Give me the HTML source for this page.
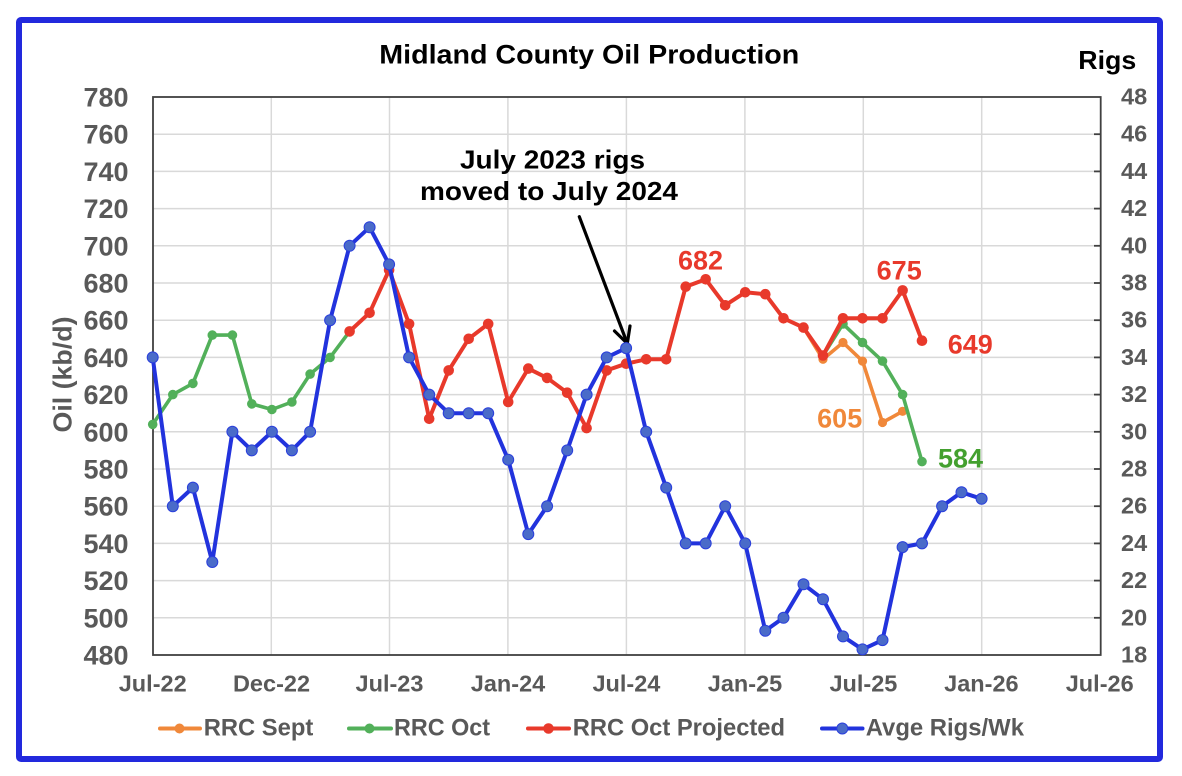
<!DOCTYPE html>
<html><head><meta charset="utf-8"><style>
html,body{margin:0;padding:0;background:#fff;}
svg{display:block;}
text{font-family:"Liberation Sans",Arial,sans-serif;font-weight:bold;}
</style></head><body>
<svg width="1182" height="776" viewBox="0 0 1182 776" xmlns="http://www.w3.org/2000/svg">
<rect x="0" y="0" width="1182" height="776" fill="#fff"/>
<rect x="19" y="20" width="1141" height="739" fill="#fff" stroke="#2229dd" stroke-width="6" rx="2"/>

<!-- gridlines -->
<g stroke="#d9d9d9" stroke-width="1.5">
<line x1="153" y1="134.2" x2="1100.7" y2="134.2"/>
<line x1="153" y1="171.4" x2="1100.7" y2="171.4"/>
<line x1="153" y1="208.6" x2="1100.7" y2="208.6"/>
<line x1="153" y1="245.8" x2="1100.7" y2="245.8"/>
<line x1="153" y1="283" x2="1100.7" y2="283"/>
<line x1="153" y1="320.2" x2="1100.7" y2="320.2"/>
<line x1="153" y1="357.4" x2="1100.7" y2="357.4"/>
<line x1="153" y1="394.6" x2="1100.7" y2="394.6"/>
<line x1="153" y1="431.8" x2="1100.7" y2="431.8"/>
<line x1="153" y1="469" x2="1100.7" y2="469"/>
<line x1="153" y1="506.2" x2="1100.7" y2="506.2"/>
<line x1="153" y1="543.4" x2="1100.7" y2="543.4"/>
<line x1="153" y1="580.6" x2="1100.7" y2="580.6"/>
<line x1="153" y1="617.8" x2="1100.7" y2="617.8"/>
<line x1="271.3" y1="97" x2="271.3" y2="655"/>
<line x1="389.5" y1="97" x2="389.5" y2="655"/>
<line x1="507.9" y1="97" x2="507.9" y2="655"/>
<line x1="626.4" y1="97" x2="626.4" y2="655"/>
<line x1="744.9" y1="97" x2="744.9" y2="655"/>
<line x1="863.3" y1="97" x2="863.3" y2="655"/>
<line x1="981.7" y1="97" x2="981.7" y2="655"/>
</g>
<!-- plot border -->
<rect x="153" y="97" width="947.7" height="558" fill="none" stroke="#404040" stroke-width="1.8"/>
<!-- right ticks -->
<g stroke="#404040" stroke-width="1.8">
<line x1="1094" y1="134.2" x2="1100.7" y2="134.2"/>
<line x1="1094" y1="171.4" x2="1100.7" y2="171.4"/>
<line x1="1094" y1="208.6" x2="1100.7" y2="208.6"/>
<line x1="1094" y1="245.8" x2="1100.7" y2="245.8"/>
<line x1="1094" y1="283" x2="1100.7" y2="283"/>
<line x1="1094" y1="320.2" x2="1100.7" y2="320.2"/>
<line x1="1094" y1="357.4" x2="1100.7" y2="357.4"/>
<line x1="1094" y1="394.6" x2="1100.7" y2="394.6"/>
<line x1="1094" y1="431.8" x2="1100.7" y2="431.8"/>
<line x1="1094" y1="469" x2="1100.7" y2="469"/>
<line x1="1094" y1="506.2" x2="1100.7" y2="506.2"/>
<line x1="1094" y1="543.4" x2="1100.7" y2="543.4"/>
<line x1="1094" y1="580.6" x2="1100.7" y2="580.6"/>
<line x1="1094" y1="617.8" x2="1100.7" y2="617.8"/>
</g>

<!-- left tick labels -->
<g fill="#595959" font-size="27" text-anchor="end">
<text x="128.5" y="106.5">780</text>
<text x="128.5" y="143.7">760</text>
<text x="128.5" y="180.9">740</text>
<text x="128.5" y="218.1">720</text>
<text x="128.5" y="255.3">700</text>
<text x="128.5" y="292.5">680</text>
<text x="128.5" y="329.7">660</text>
<text x="128.5" y="366.9">640</text>
<text x="128.5" y="404.1">620</text>
<text x="128.5" y="441.3">600</text>
<text x="128.5" y="478.5">580</text>
<text x="128.5" y="515.7">560</text>
<text x="128.5" y="552.9">540</text>
<text x="128.5" y="590.1">520</text>
<text x="128.5" y="627.3">500</text>
<text x="128.5" y="664.5">480</text>
</g>
<!-- right tick labels -->
<g fill="#595959" font-size="23.5" text-anchor="start">
<text x="1121" y="104.5">48</text>
<text x="1121" y="141.7">46</text>
<text x="1121" y="178.9">44</text>
<text x="1121" y="216.1">42</text>
<text x="1121" y="253.3">40</text>
<text x="1121" y="290.5">38</text>
<text x="1121" y="327.7">36</text>
<text x="1121" y="364.9">34</text>
<text x="1121" y="402.1">32</text>
<text x="1121" y="439.3">30</text>
<text x="1121" y="476.5">28</text>
<text x="1121" y="513.7">26</text>
<text x="1121" y="550.9">24</text>
<text x="1121" y="588.1">22</text>
<text x="1121" y="625.3">20</text>
<text x="1121" y="662.5">18</text>
</g>
<!-- x labels -->
<g fill="#595959" font-size="23.5" text-anchor="middle">
<text x="152.7" y="691.7">Jul-22</text>
<text x="271.5" y="691.7">Dec-22</text>
<text x="389.5" y="691.7">Jul-23</text>
<text x="508" y="691.7">Jan-24</text>
<text x="626.4" y="691.7">Jul-24</text>
<text x="745" y="691.7">Jan-25</text>
<text x="863.4" y="691.7">Jul-25</text>
<text x="981.4" y="691.7">Jan-26</text>
<text x="1099.7" y="691.7">Jul-26</text>
</g>

<!-- titles -->
<text x="379.3" y="63.3" font-size="27" fill="#000" textLength="420" lengthAdjust="spacingAndGlyphs">Midland County Oil Production</text>
<text x="1078.3" y="69" font-size="26" fill="#000" textLength="58" lengthAdjust="spacingAndGlyphs">Rigs</text>
<text transform="translate(71.5,432.5) rotate(-90)" font-size="26" fill="#595959" textLength="116" lengthAdjust="spacingAndGlyphs">Oil (kb/d)</text>

<!-- annotation -->
<text x="460" y="168.3" font-size="26" fill="#000" textLength="185" lengthAdjust="spacingAndGlyphs">July 2023 rigs</text>
<text x="420" y="200" font-size="26" fill="#000" textLength="258" lengthAdjust="spacingAndGlyphs">moved to July 2024</text>
<g stroke="#000" stroke-width="3.2" fill="none" stroke-linecap="round" stroke-linejoin="round">
<line x1="579.3" y1="216.7" x2="627.3" y2="343.5"/>
<polyline points="614.5,331 627.3,343.5 630,326"/>
</g>

<!-- orange RRC Sept -->
<g stroke="#f0883a" stroke-width="3.6" fill="none" stroke-linejoin="round" stroke-linecap="round">
<polyline points="803.5,327.6 823.0,359.3 843.0,342.5 862.5,361.1 882.5,422.5 902.6,411.3"/>
</g>
<g fill="#f0883a">
<circle cx="823.0" cy="359.3" r="4.6"/><circle cx="843.0" cy="342.5" r="4.6"/><circle cx="862.5" cy="361.1" r="4.6"/><circle cx="882.5" cy="422.5" r="4.6"/><circle cx="902.6" cy="411.3" r="4.6"/>
</g>

<!-- green RRC Oct -->
<g stroke="#52b05a" stroke-width="3.6" fill="none" stroke-linejoin="round" stroke-linecap="round">
<polyline points="152.7,424.4 172.8,394.6 192.9,383.4 212.3,335.1 232.4,335.1 251.8,403.9 271.9,409.5 291.9,402 310.1,374.1 330.1,357.4 349.6,331.4"/>
<polyline points="823.0,355.5 843.0,323.9 862.5,342.5 882.5,361.1 902.6,394.6 922.0,461.6"/>
</g>
<g fill="#52b05a">
<circle cx="152.7" cy="424.4" r="4.8"/><circle cx="172.8" cy="394.6" r="4.8"/><circle cx="192.9" cy="383.4" r="4.8"/><circle cx="212.3" cy="335.1" r="4.8"/><circle cx="232.4" cy="335.1" r="4.8"/><circle cx="251.8" cy="403.9" r="4.8"/><circle cx="271.9" cy="409.5" r="4.8"/><circle cx="291.9" cy="402" r="4.8"/><circle cx="310.1" cy="374.1" r="4.8"/><circle cx="330.1" cy="357.4" r="4.8"/>
<circle cx="843.0" cy="323.9" r="4.8"/><circle cx="862.5" cy="342.5" r="4.8"/><circle cx="882.5" cy="361.1" r="4.8"/><circle cx="902.6" cy="394.6" r="4.8"/><circle cx="922.0" cy="461.6" r="4.8"/>
</g>

<!-- red RRC Oct Projected -->
<g stroke="#e8392b" stroke-width="4" fill="none" stroke-linejoin="round" stroke-linecap="round">
<polyline points="349.6,331.4 369.6,312.8 389.1,270 409.1,323.9 429.2,418.8 448.7,370.4 468.7,338.8 488.2,323.9 508.2,402 528.3,368.6 547.1,377.9 567.2,392.7 586.6,428.1 606.7,370.4 626.1,363.7 646.2,359.3 666.2,359.3 685.7,286.7 705.7,279.3 725.2,305.3 745.2,292.3 765.3,294.2 783.5,318.3 803.5,327.6 823.0,355.5 843.0,318.3 862.5,318.3 882.5,318.3 902.6,290.4 922.0,340.7"/>
</g>
<g fill="#e8392b">
<circle cx="349.6" cy="331.4" r="5.3"/><circle cx="369.6" cy="312.8" r="5.3"/><circle cx="389.1" cy="270" r="5.3"/><circle cx="409.1" cy="323.9" r="5.3"/><circle cx="429.2" cy="418.8" r="5.3"/><circle cx="448.7" cy="370.4" r="5.3"/><circle cx="468.7" cy="338.8" r="5.3"/><circle cx="488.2" cy="323.9" r="5.3"/><circle cx="508.2" cy="402" r="5.3"/><circle cx="528.3" cy="368.6" r="5.3"/><circle cx="547.1" cy="377.9" r="5.3"/><circle cx="567.2" cy="392.7" r="5.3"/><circle cx="586.6" cy="428.1" r="5.3"/><circle cx="606.7" cy="370.4" r="5.3"/><circle cx="626.1" cy="363.7" r="5.3"/><circle cx="646.2" cy="359.3" r="5.3"/><circle cx="666.2" cy="359.3" r="5.3"/><circle cx="685.7" cy="286.7" r="5.3"/><circle cx="705.7" cy="279.3" r="5.3"/><circle cx="725.2" cy="305.3" r="5.3"/><circle cx="745.2" cy="292.3" r="5.3"/><circle cx="765.3" cy="294.2" r="5.3"/><circle cx="783.5" cy="318.3" r="5.3"/><circle cx="803.5" cy="327.6" r="5.3"/><circle cx="823.0" cy="355.5" r="5.3"/><circle cx="843.0" cy="318.3" r="5.3"/><circle cx="862.5" cy="318.3" r="5.3"/><circle cx="882.5" cy="318.3" r="5.3"/><circle cx="902.6" cy="290.4" r="5.3"/><circle cx="922.0" cy="340.7" r="5.3"/>
</g>

<!-- blue rigs -->
<g stroke="#2233dd" stroke-width="4" fill="none" stroke-linejoin="round" stroke-linecap="round">
<polyline points="152.7,357.4 172.8,506.2 192.9,487.6 212.3,562 232.4,431.8 251.8,450.4 271.9,431.8 291.9,450.4 310.1,431.8 330.1,320.2 349.6,245.8 369.6,227.2 389.1,264.4 409.1,357.4 429.2,394.6 448.7,413.2 468.7,413.2 488.2,413.2 508.2,459.7 528.3,534.1 547.1,506.2 567.2,450.4 586.6,394.6 606.7,357.4 626.1,348.1 646.2,431.8 666.2,487.6 685.7,543.4 705.7,543.4 725.2,506.2 745.2,543.4 765.3,630.8 783.5,617.8 803.5,584.3 823.0,599.2 843.0,636.4 862.5,649.4 882.5,640.1 902.6,547.1 922.0,543.4 942.1,506.2 961.5,492.3 981.6,498.8"/>
</g>
<g fill="#4a6bc9" stroke="#2a3fdc" stroke-width="1">
<circle cx="152.7" cy="357.4" r="5.5"/><circle cx="172.8" cy="506.2" r="5.5"/><circle cx="192.9" cy="487.6" r="5.5"/><circle cx="212.3" cy="562" r="5.5"/><circle cx="232.4" cy="431.8" r="5.5"/><circle cx="251.8" cy="450.4" r="5.5"/><circle cx="271.9" cy="431.8" r="5.5"/><circle cx="291.9" cy="450.4" r="5.5"/><circle cx="310.1" cy="431.8" r="5.5"/><circle cx="330.1" cy="320.2" r="5.5"/><circle cx="349.6" cy="245.8" r="5.5"/><circle cx="369.6" cy="227.2" r="5.5"/><circle cx="389.1" cy="264.4" r="5.5"/><circle cx="409.1" cy="357.4" r="5.5"/><circle cx="429.2" cy="394.6" r="5.5"/><circle cx="448.7" cy="413.2" r="5.5"/><circle cx="468.7" cy="413.2" r="5.5"/><circle cx="488.2" cy="413.2" r="5.5"/><circle cx="508.2" cy="459.7" r="5.5"/><circle cx="528.3" cy="534.1" r="5.5"/><circle cx="547.1" cy="506.2" r="5.5"/><circle cx="567.2" cy="450.4" r="5.5"/><circle cx="586.6" cy="394.6" r="5.5"/><circle cx="606.7" cy="357.4" r="5.5"/><circle cx="626.1" cy="348.1" r="5.5"/><circle cx="646.2" cy="431.8" r="5.5"/><circle cx="666.2" cy="487.6" r="5.5"/><circle cx="685.7" cy="543.4" r="5.5"/><circle cx="705.7" cy="543.4" r="5.5"/><circle cx="725.2" cy="506.2" r="5.5"/><circle cx="745.2" cy="543.4" r="5.5"/><circle cx="765.3" cy="630.8" r="5.5"/><circle cx="783.5" cy="617.8" r="5.5"/><circle cx="803.5" cy="584.3" r="5.5"/><circle cx="823.0" cy="599.2" r="5.5"/><circle cx="843.0" cy="636.4" r="5.5"/><circle cx="862.5" cy="649.4" r="5.5"/><circle cx="882.5" cy="640.1" r="5.5"/><circle cx="902.6" cy="547.1" r="5.5"/><circle cx="922.0" cy="543.4" r="5.5"/><circle cx="942.1" cy="506.2" r="5.5"/><circle cx="961.5" cy="492.3" r="5.5"/><circle cx="981.6" cy="498.8" r="5.5"/>
</g>

<!-- data labels -->
<g font-size="27" text-anchor="middle">
<text x="700.5" y="269.3" fill="#e8392b">682</text>
<text x="899.2" y="279.3" fill="#e8392b">675</text>
<text x="970.3" y="353.3" fill="#e8392b">649</text>
<text x="839.7" y="427.3" fill="#f0883a">605</text>
<text x="960.5" y="467.7" fill="#43a02f">584</text>
</g>

<!-- legend -->
<g stroke-width="4" stroke-linecap="round">
<line x1="160" y1="728.5" x2="200" y2="728.5" stroke="#f0883a"/>
<line x1="349" y1="728.5" x2="391" y2="728.5" stroke="#52b05a"/>
<line x1="528" y1="728.5" x2="569" y2="728.5" stroke="#e8392b"/>
<line x1="822" y1="728.5" x2="862.5" y2="728.5" stroke="#2233dd"/>
</g>
<circle cx="179.5" cy="728.5" r="5" fill="#f0883a"/>
<circle cx="369.5" cy="728.5" r="5" fill="#52b05a"/>
<circle cx="548.5" cy="728.5" r="5.3" fill="#e8392b"/>
<circle cx="842.3" cy="728.5" r="5.5" fill="#4a6bc9" stroke="#2a3fdc" stroke-width="1"/>
<g fill="#595959" font-size="24">
<text x="203.7" y="735.7" textLength="109.6" lengthAdjust="spacingAndGlyphs">RRC Sept</text>
<text x="394" y="735.7" textLength="96" lengthAdjust="spacingAndGlyphs">RRC Oct</text>
<text x="572.7" y="735.7" textLength="212.3" lengthAdjust="spacingAndGlyphs">RRC Oct Projected</text>
<text x="865.7" y="735.7" textLength="158.3" lengthAdjust="spacingAndGlyphs">Avge Rigs/Wk</text>
</g>
</svg>
</body></html>
